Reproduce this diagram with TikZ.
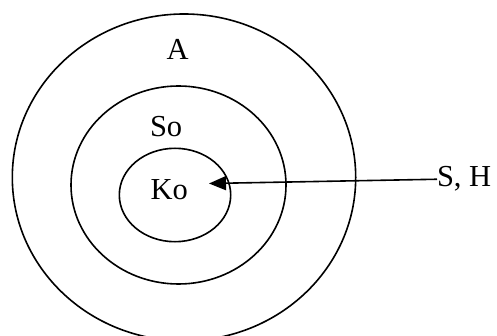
\documentclass[tikz,border=0pt]{standalone}
\usepackage{fontspec}
\setmainfont{Liberation Serif}
\usetikzlibrary{arrows.meta,shapes.geometric}
\begin{document}
\begin{tikzpicture}[x=1pt,y=-1pt,
  ring/.style={draw, ellipse, line width=1.6pt, inner sep=0pt, outer sep=0pt},
  lbl/.style={anchor=base west, inner sep=0pt, outer sep=0pt, font=\fontsize{30.5}{32}\selectfont},
  conn/.style={line width=1.6pt, -{Triangle[length=17pt,width=14pt]}}]
\useasboundingbox (0,0) rectangle (497,336);
\node[ring, minimum width=343.4pt, minimum height=326.8pt] (outer) at (184,177.4) {};
\node[ring, minimum width=215pt, minimum height=198pt] (middle) at (178.5,185) {};
\node[ring, minimum width=111.4pt, minimum height=93.4pt] (inner) at (175,195) {};
\node[lbl] (a) at (166.5,60) {A};
\node[lbl] (so) at (150,137) {So};
\node[lbl] (ko) at (150.5,199.3) {Ko};
\node[lbl] (sh) at (437,187) {S, H};
\coordinate (tip) at (209,183.5);
\draw[conn] (sh.west) -- (tip);
\end{tikzpicture}
\end{document}
